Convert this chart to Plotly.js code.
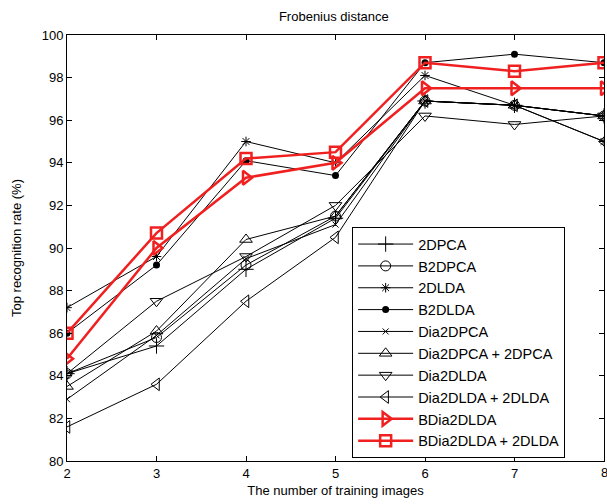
<!DOCTYPE html>
<html>
<head>
<meta charset="utf-8">
<script src="https://cdn.plot.ly/plotly-3.0.1.min.js"></script>
<style>html,body{margin:0;padding:0;background:#fff;}</style>
</head>
<body>
<div id="chart" style="width:607px;height:504px;"></div>
<script>
const trainingImages = [2, 3, 4, 5, 6, 7, 8];
const seriesNames = ["2DPCA", "B2DPCA", "2DLDA", "B2DLDA", "Dia2DPCA", "Dia2DPCA + 2DPCA", "Dia2DLDA", "Dia2DLDA + 2DLDA", "BDia2DLDA", "BDia2DLDA + 2DLDA"];
const v2DPCA = [84.1, 85.4, 89.0, 91.4, 96.9, 96.7, 96.2];
const vB2DPCA = [84.1, 85.8, 89.2, 91.5, 96.9, 96.7, 96.2];
const v2DLDA = [87.2, 89.6, 95.0, 94.0, 98.1, 96.7, 95.0];
const vB2DLDA = [86.0, 89.2, 94.1, 93.4, 98.7, 99.1, 98.7];
const vDia2DPCA = [82.9, 85.9, 89.5, 91.1, 96.9, 96.7, 96.2];
const vDia2DPCA2DPCA = [83.5, 86.1, 90.4, 91.5, 96.9, 96.7, 96.2];
const vDia2DLDA = [84.1, 87.5, 89.6, 92.0, 96.2, 95.8, 96.2];
const vDia2DLDA2DLDA = [81.6, 83.6, 87.5, 90.5, 96.9, 96.7, 95.0];
const vBDia2DLDA = [84.8, 90.0, 93.3, 94.0, 97.5, 97.5, 97.5];
const vBDia2DLDA2DLDA = [86.0, 90.7, 94.2, 94.5, 98.7, 98.3, 98.7];
const yTicks = [80, 82, 84, 86, 88, 90, 92, 94, 96, 98, 100];

const allValues = [v2DPCA, vB2DPCA, v2DLDA, vB2DLDA, vDia2DPCA, vDia2DPCA2DPCA, vDia2DLDA, vDia2DLDA2DLDA, vBDia2DLDA, vBDia2DLDA2DLDA];
const styles = [
  {symbol: "cross-thin-open", size: 11, color: "#000", lw: 1, mlw: 1},
  {symbol: "circle-open", size: 10, color: "#000", lw: 1, mlw: 1},
  {symbol: "asterisk-open", size: 8, color: "#000", lw: 1, mlw: 1},
  {symbol: "circle", size: 7, color: "#000", lw: 1, mlw: 0},
  {symbol: "x-thin-open", size: 6, color: "#000", lw: 1, mlw: 1},
  {symbol: "triangle-up-open", size: 11, color: "#000", lw: 1, mlw: 1},
  {symbol: "triangle-down-open", size: 11, color: "#000", lw: 1, mlw: 1},
  {symbol: "triangle-left-open", size: 11, color: "#000", lw: 1, mlw: 1},
  {symbol: "triangle-right-open", size: 12, color: "#f02020", lw: 2.5, mlw: 2.5},
  {symbol: "square-open", size: 11, color: "#f02020", lw: 2.5, mlw: 2.5}
];

const traces = seriesNames.map((name, i) => ({
  type: "scatter",
  mode: "lines+markers",
  name: name,
  legendgroup: "g" + i,
  x: trainingImages,
  y: allValues[i],
  line: {color: styles[i].color, width: styles[i].lw},
  marker: {symbol: styles[i].symbol, size: styles[i].size, color: styles[i].color,
           line: {color: styles[i].color, width: styles[i].mlw}}
}));

const fontFam = "Liberation Sans, Arial, sans-serif";
const layout = {
  width: 607, height: 504,
  margin: {l: 67, r: 3, t: 35, b: 43},
  paper_bgcolor: "#fff", plot_bgcolor: "#fff",
  font: {family: fontFam, size: 13, color: "#000"},
  title: {text: "Frobenius distance", font: {size: 13, family: fontFam}, x: 0.55, xanchor: "center", y: 0.967, yanchor: "middle"},
  showlegend: true,
  legend: {x: 0.531, y: 0.549, xanchor: "left", yanchor: "top",
           bordercolor: "#000", borderwidth: 1, bgcolor: "#fff", itemwidth: 55,
           font: {size: 14.5, family: fontFam}, traceorder: "grouped", tracegroupgap: 0},
  xaxis: {range: [2, 8], tickvals: trainingImages, ticktext: ["2", "3", "4", "5", "6", "7", ""],
          ticks: "inside", ticklen: 5, tickcolor: "#000",
          showgrid: false, zeroline: false, showline: true, linecolor: "#000", linewidth: 1, mirror: "ticks",
          tickfont: {size: 13}, automargin: false,
          title: {text: "The number of training images", font: {size: 13}, standoff: 6}},
  yaxis: {range: [80, 100], tickvals: yTicks, ticks: "inside", ticklen: 5, tickcolor: "#000",
          showgrid: false, zeroline: false, showline: true, linecolor: "#000", linewidth: 1, mirror: "ticks",
          tickfont: {size: 13}, automargin: false,
          title: {text: "Top recognition rate (%)", font: {size: 13}, standoff: 17}},
  annotations: [{text: "8", x: 8, xref: "x", y: 0, yref: "paper", yanchor: "top", xanchor: "center",
                 yshift: -2, showarrow: false, font: {size: 13}}]
};

Plotly.newPlot("chart", traces, layout, {displayModeBar: false, staticPlot: true});
</script>
</body>
</html>
